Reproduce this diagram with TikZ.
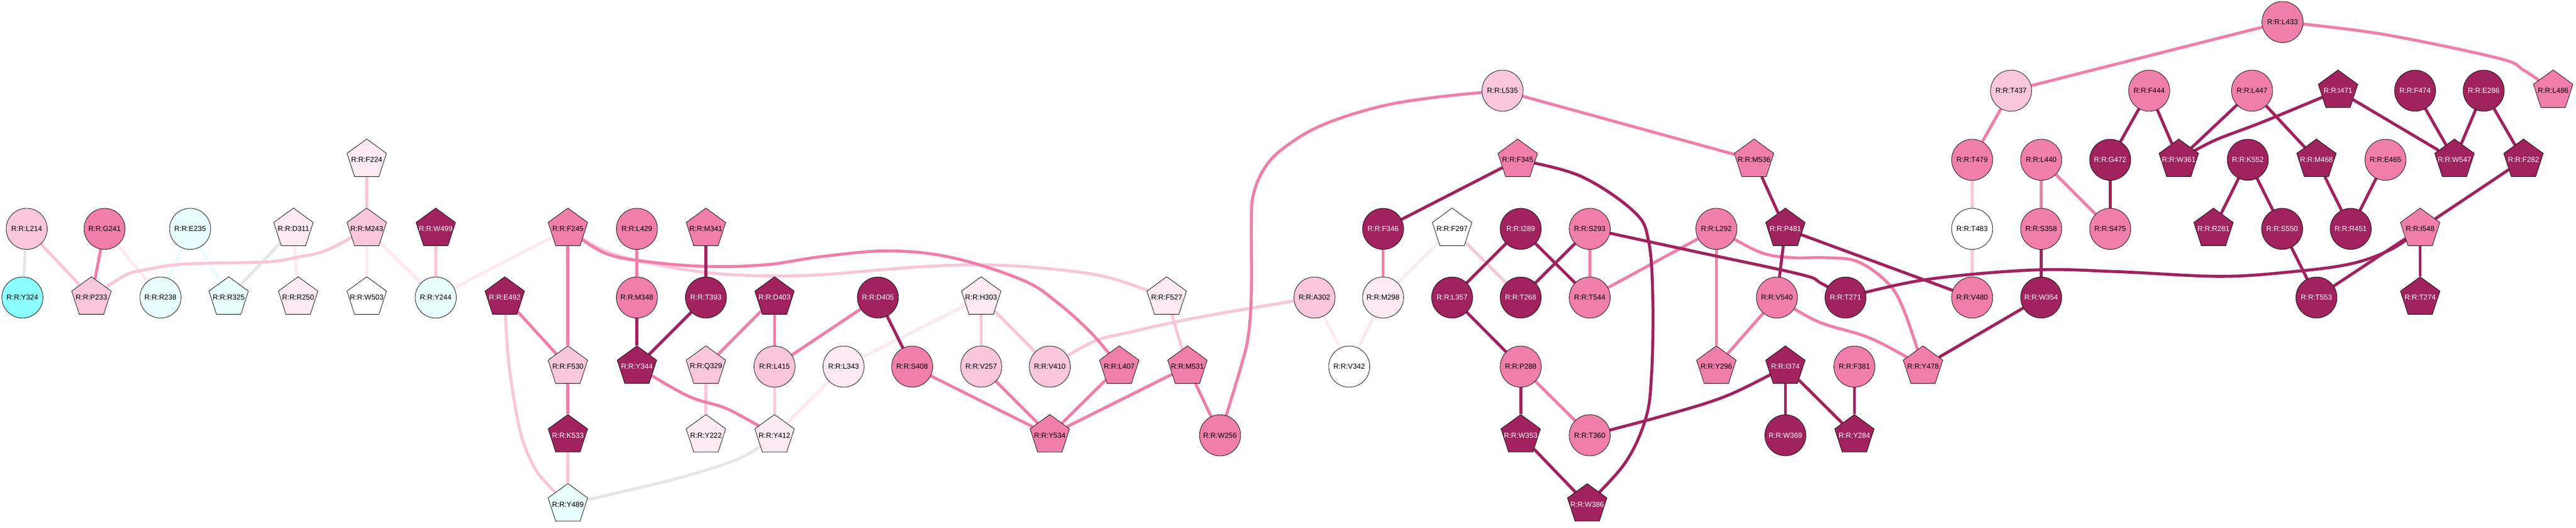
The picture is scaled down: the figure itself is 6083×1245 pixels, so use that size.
\documentclass[tikz,border=0pt]{standalone}
\usepackage{fontspec}
\setmainfont{Liberation Sans}
\usetikzlibrary{shapes.geometric}
\pgfdeclarelayer{bg}
\pgfsetlayers{bg,main}
\definecolor{cDark}{HTML}{A0225E}
\definecolor{cMid}{HTML}{F07EAA}
\definecolor{cLight}{HTML}{F9C6DB}
\definecolor{cVLight}{HTML}{FCE9F1}
\definecolor{cCyanL}{HTML}{E8FEFE}
\definecolor{cCyan}{HTML}{8CFEFE}
\definecolor{cGrey}{HTML}{E6E6E6}
\tikzset{
  nd/.style={draw=black, line width=0.5pt, inner sep=0pt, font=\fontsize{8.6pt}{10pt}\selectfont,
    execute at begin node={\hbox to 0pt\bgroup\hss}, execute at end node={\hss\egroup}},
  circ/.style={nd, circle, minimum size=48.5pt},
  pent/.style={nd, regular polygon, regular polygon sides=5, minimum size=49pt},
  dk/.style={fill=cDark, text=white},
  md/.style={fill=cMid},
  lt/.style={fill=cLight},
  vl/.style={fill=cVLight},
  wh/.style={fill=white},
  cl/.style={fill=cCyanL},
  cy/.style={fill=cCyan},
  lnbase/.style={line width=3.5pt},
  lnD/.style={lnbase, draw=cDark},
  lnM/.style={lnbase, draw=cMid},
  lnL/.style={lnbase, draw=cLight},
  lnV/.style={lnbase, draw=cVLight},
  lnC/.style={lnbase, draw=cCyanL},
  lnG/.style={lnbase, draw=cGrey},
  sm/.style={smooth, tension=0.6}
}
\begin{document}
\begin{tikzpicture}[x=0.5pt, y=-0.5pt]
\useasboundingbox (0,0) rectangle (6083,1245);
% ---- nodes: left
\node[pent,vl] (F224) at (866,377) {R:R:F224};
\node[circ,lt] (L214) at (63,540) {R:R:L214};
\node[circ,md] (G241) at (247,540) {R:R:G241};
\node[circ,cl] (E235) at (449,540) {R:R:E235};
\node[pent,vl] (D311) at (693,540) {R:R:D311};
\node[pent,lt] (M243) at (866,540) {R:R:M243};
\node[pent,dk] (W499) at (1029,540) {R:R:W499};
\node[circ,cy] (Y324) at (53,702) {R:R:Y324};
\node[pent,lt] (P233) at (216,702) {R:R:P233};
\node[circ,cl] (R238) at (379,702) {R:R:R238};
\node[pent,cl] (R325) at (540,702) {R:R:R325};
\node[pent,vl] (R250) at (704,702) {R:R:R250};
\node[pent,wh] (W503) at (866,702) {R:R:W503};
\node[circ,cl] (Y244) at (1029,702) {R:R:Y244};
% ---- middle-left
\node[pent,md] (F245) at (1341,540) {R:R:F245};
\node[circ,md] (L429) at (1504,540) {R:R:L429};
\node[pent,md] (M341) at (1667,540) {R:R:M341};
\node[pent,dk] (E492) at (1192,702) {R:R:E492};
\node[circ,md] (M348) at (1504,702) {R:R:M348};
\node[circ,dk] (T393) at (1667,702) {R:R:T393};
\node[pent,dk] (D403) at (1829,702) {R:R:D403};
\node[circ,dk] (D405) at (2073,702) {R:R:D405};
\node[pent,lt] (F530) at (1341,865) {R:R:F530};
\node[pent,dk] (Y344) at (1504,865) {R:R:Y344};
\node[pent,lt] (Q329) at (1667,865) {R:R:Q329};
\node[circ,lt] (L415) at (1829,865) {R:R:L415};
\node[circ,vl] (L343) at (1992,865) {R:R:L343};
\node[pent,dk] (K533) at (1341,1027) {R:R:K533};
\node[pent,vl] (Y222) at (1667,1027) {R:R:Y222};
\node[pent,vl] (Y412) at (1829,1027) {R:R:Y412};
\node[pent,cl] (Y489) at (1341,1190) {R:R:Y489};
% ---- middle
\node[pent,vl] (H303) at (2317,702) {R:R:H303};
\node[pent,vl] (F527) at (2755,702) {R:R:F527};
\node[circ,lt] (A302) at (3104,702) {R:R:A302};
\node[circ,vl] (M298) at (3266,702) {R:R:M298};
\node[circ,md] (S408) at (2154,865) {R:R:S408};
\node[circ,lt] (V257) at (2317,865) {R:R:V257};
\node[circ,lt] (V410) at (2479,865) {R:R:V410};
\node[pent,md] (L407) at (2643,865) {R:R:L407};
\node[pent,md] (M531) at (2804,865) {R:R:M531};
\node[circ,wh] (V342) at (3186,865) {R:R:V342};
\node[pent,md] (Y534) at (2479,1027) {R:R:Y534};
\node[circ,md] (W256) at (2881,1027) {R:R:W256};
% ---- middle-right
\node[circ,lt] (L535) at (3548,214) {R:R:L535};
\node[pent,md] (F345) at (3584,377) {R:R:F345};
\node[pent,md] (M536) at (4142,377) {R:R:M536};
\node[circ,dk] (F346) at (3266,540) {R:R:F346};
\node[pent,wh] (F297) at (3429,540) {R:R:F297};
\node[circ,dk] (I289) at (3591,540) {R:R:I289};
\node[circ,md] (S293) at (3754,540) {R:R:S293};
\node[circ,md] (L292) at (4053,540) {R:R:L292};
\node[circ,dk] (L357) at (3429,702) {R:R:L357};
\node[circ,dk] (T268) at (3591,702) {R:R:T268};
\node[circ,md] (T544) at (3754,702) {R:R:T544};
\node[circ,md] (P288) at (3591,865) {R:R:P288};
\node[pent,md] (Y296) at (4053,865) {R:R:Y296};
\node[pent,dk] (W353) at (3591,1027) {R:R:W353};
\node[circ,md] (T360) at (3754,1027) {R:R:T360};
\node[pent,dk] (W386) at (3748,1190) {R:R:W386};
% ---- right
\node[circ,lt] (T437) at (4749,214) {R:R:T437};
\node[circ,md] (T479) at (4657,377) {R:R:T479};
\node[circ,md] (L440) at (4820,377) {R:R:L440};
\node[circ,dk] (G472) at (4983,377) {R:R:G472};
\node[pent,dk] (P481) at (4216,540) {R:R:P481};
\node[circ,wh] (T483) at (4657,540) {R:R:T483};
\node[circ,md] (S358) at (4820,540) {R:R:S358};
\node[circ,md] (S475) at (4983,540) {R:R:S475};
\node[circ,md] (V540) at (4196,702) {R:R:V540};
\node[circ,dk] (T271) at (4358,702) {R:R:T271};
\node[circ,md] (V480) at (4657,702) {R:R:V480};
\node[circ,dk] (W354) at (4820,702) {R:R:W354};
\node[pent,dk] (I374) at (4216,865) {R:R:I374};
\node[circ,md] (F381) at (4379,865) {R:R:F381};
\node[pent,md] (Y478) at (4541,865) {R:R:Y478};
\node[circ,dk] (W369) at (4216,1027) {R:R:W369};
\node[pent,dk] (Y284) at (4379,1027) {R:R:Y284};
% ---- far right
\node[circ,md] (L433) at (5390,52) {R:R:L433};
\node[circ,md] (F444) at (5075,214) {R:R:F444};
\node[circ,md] (L447) at (5318,214) {R:R:L447};
\node[pent,dk] (I471) at (5521,214) {R:R:I471};
\node[circ,dk] (F474) at (5703,214) {R:R:F474};
\node[circ,dk] (E286) at (5865,214) {R:R:E286};
\node[pent,md] (L486) at (6029,214) {R:R:L486};
\node[pent,dk] (W361) at (5145,377) {R:R:W361};
\node[circ,dk] (K552) at (5308,377) {R:R:K552};
\node[pent,dk] (M468) at (5470,377) {R:R:M468};
\node[circ,md] (E465) at (5633,377) {R:R:E465};
\node[pent,dk] (W547) at (5796,377) {R:R:W547};
\node[pent,dk] (F282) at (5959,377) {R:R:F282};
\node[pent,dk] (R281) at (5227,540) {R:R:R281};
\node[circ,dk] (S550) at (5389,540) {R:R:S550};
\node[circ,dk] (R451) at (5551,540) {R:R:R451};
\node[pent,md] (I548) at (5715,540) {R:R:I548};
\node[circ,dk] (T553) at (5470,702) {R:R:T553};
\node[pent,dk] (T274) at (5715,702) {R:R:T274};
% ---- edges
\begin{pgfonlayer}{bg}
\fill[white] (0,0) rectangle (6083,1245);
% grey
\draw[lnG] (L214) -- (Y324);
\draw[lnG] (D311) -- (R325);
\draw[lnG] plot[sm] coordinates {(Y412.center) (1752,1079) (1624,1122) (1496,1154) (Y489.center)};
% cyan light
\draw[lnC] (E235) -- (R238);
\draw[lnC] (E235) -- (R325);
% very light
\draw[lnV] (G241) -- (R238);
\draw[lnV] (D311) -- (R250);
\draw[lnV] (M243) -- (W503);
\draw[lnV] (M243) -- (Y244);
\draw[lnV] (Y244) -- (F245);
\draw[lnV] (L343) -- (Y412);
\draw[lnV] (L343) -- (H303);
\draw[lnV] (A302) -- (V342);
\draw[lnV] (M298) -- (V342);
\draw[lnV] (F297) -- (M298);
% light
\draw[lnL] (L214) -- (P233);
\draw[lnL] (F224) -- (M243);
\draw[lnL] (W499) -- (Y244);
\draw[lnL] (K533) -- (Y489);
\draw[lnL] (Q329) -- (Y222);
\draw[lnL] (L415) -- (Y412);
\draw[lnL] (H303) -- (V257);
\draw[lnL] (H303) -- (V410);
\draw[lnL] (F527) -- (M531);
\draw[lnL] (F297) -- (T268);
\draw[lnL] (T479) -- (T483);
\draw[lnL] (T483) -- (V480);
\draw[lnL] plot[sm] coordinates {(M243.center) (772,590) (701,607) (631,618) (491,621) (421,624) (351,635) (295,650) (P233.center)};
\draw[lnL] plot[sm] coordinates {(E492.center) (1196,790) (1205,885) (1229,1020) (1262,1103) (1300,1150) (Y489.center)};
\draw[lnL] plot[sm] coordinates {(F245.center) (1433,594) (1560,626) (1688,645) (1815,651) (1943,648) (2166,630) (2332,625) (2497,636) (2622,656) (F527.center)};
\draw[lnL] plot[sm] coordinates {(A302.center) (2829,749) (2663,785) (2580,807) (V410.center)};
% mid
\draw[lnM] (G241) -- (P233);
\draw[lnM] (F245) -- (F530);
\draw[lnM] (L429) -- (M348);
\draw[lnM] (E492) -- (F530);
\draw[lnM] (D403) -- (Q329);
\draw[lnM] (D403) -- (L415);
\draw[lnM] (D405) -- (L415);
\draw[lnM] (F530) -- (K533);
\draw[lnM] (S408) -- (Y534);
\draw[lnM] (V257) -- (Y534);
\draw[lnM] (L407) -- (Y534);
\draw[lnM] (M531) -- (Y534);
\draw[lnM] (M531) -- (W256);
\draw[lnM] (F346) -- (M298);
\draw[lnM] (L535) -- (M536);
\draw[lnM] (S293) -- (T544);
\draw[lnM] (L292) -- (T544);
\draw[lnM] (L292) -- (Y296);
\draw[lnM] (P288) -- (T360);
\draw[lnM] (V540) -- (Y296);
\draw[lnM] (L433) -- (T437);
\draw[lnM] (T437) -- (T479);
\draw[lnM] (L440) -- (S358);
\draw[lnM] (L440) -- (S475);
\draw[lnM] plot[sm] coordinates {(Y344.center) (1624,934) (1720,966) (Y412.center)};
\draw[lnM] plot[sm] coordinates {(F245.center) (1433,599) (1560,621) (1688,629) (1815,624) (1943,605) (2100,592) (2249,608) (2415,661) (2497,714) (2580,789) (L407.center)};
\draw[lnM] plot[sm] coordinates {(L535.center) (3386,230) (3252,253) (3118,297) (3029,351) (2984,400) (2959,462) (2955,529) (2955,686) (2948,790) (2929,870) (W256.center)};
\draw[lnM] plot[sm] coordinates {(L292.center) (4156,595) (4233,608) (4309,608) (4386,617) (4457,667) (4495,730) (Y478.center)};
\draw[lnM] plot[sm] coordinates {(V540.center) (4291,758) (4419,799) (Y478.center)};
\draw[lnM] plot[sm] coordinates {(L433.center) (5622,80) (5898,137) (5960,166) (L486.center)};
% dark
\draw[lnD] (M341) -- (T393);
\draw[lnD] (M348) -- (Y344);
\draw[lnD] (T393) -- (Y344);
\draw[lnD] (D405) -- (S408);
\draw[lnD] (F345) -- (F346);
\draw[lnD] (I289) -- (L357);
\draw[lnD] (I289) -- (T544);
\draw[lnD] (S293) -- (T268);
\draw[lnD] (L357) -- (P288);
\draw[lnD] (P288) -- (W353);
\draw[lnD] (W353) -- (W386);
\draw[lnD] (M536) -- (P481);
\draw[lnD] (P481) -- (V540);
\draw[lnD] (P481) -- (V480);
\draw[lnD] (S358) -- (W354);
\draw[lnD] (W354) -- (Y478);
\draw[lnD] (G472) -- (S475);
\draw[lnD] (G472) -- (F444);
\draw[lnD] (I374) -- (W369);
\draw[lnD] (I374) -- (Y284);
\draw[lnD] (F381) -- (Y284);
\draw[lnD] (F444) -- (W361);
\draw[lnD] (L447) -- (W361);
\draw[lnD] (L447) -- (M468);
\draw[lnD] (I471) -- (W547);
\draw[lnD] (F474) -- (W547);
\draw[lnD] (E286) -- (W547);
\draw[lnD] (E286) -- (F282);
\draw[lnD] (K552) -- (R281);
\draw[lnD] (K552) -- (S550);
\draw[lnD] (M468) -- (R451);
\draw[lnD] (E465) -- (R451);
\draw[lnD] (S550) -- (T553);
\draw[lnD] (F282) -- (I548);
\draw[lnD] (I548) -- (T553);
\draw[lnD] (I548) -- (T274);
\draw[lnD] plot[sm] coordinates {(F345.center) (3731,415) (3858,499) (3893,569) (3903,709) (3900,883) (3886,988) (3837,1093) (W386.center)};
\draw[lnD] plot[sm] coordinates {(S293.center) (4000,593) (4250,647) (4300,668) (T271.center)};
\draw[lnD] plot[sm] coordinates {(T360.center) (3942,977) (4082,932) (I374.center)};
\draw[lnD] plot[sm] coordinates {(T271.center) (4546,660) (4802,637) (5000,641) (5242,652) (5414,641) (5553,622) (5649,587) (I548.center)};
\draw[lnD] plot[sm] coordinates {(I471.center) (5345,287) (5228,332) (W361.center)};
\end{pgfonlayer}
\end{tikzpicture}
\end{document}
